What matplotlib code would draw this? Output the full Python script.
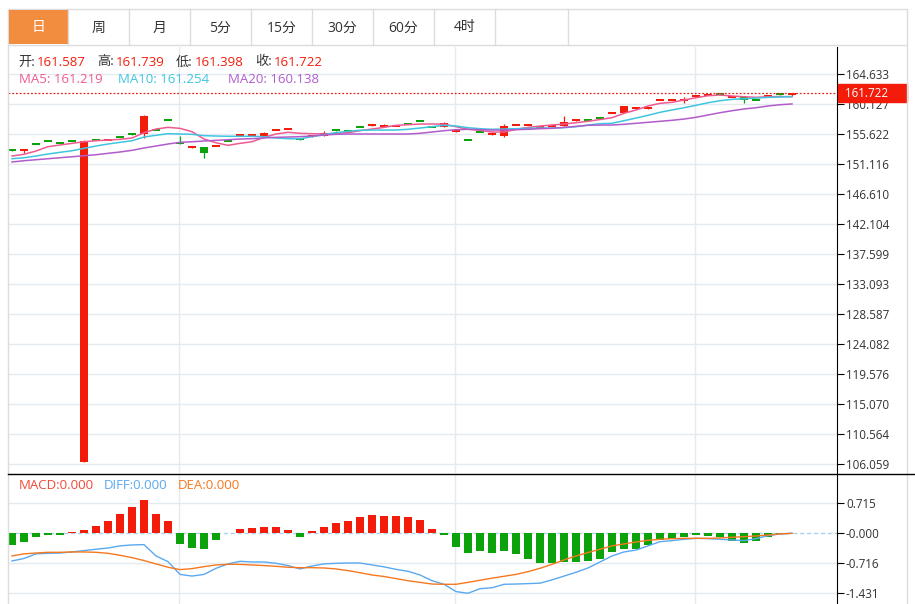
import numpy as np
import matplotlib
matplotlib.use("Agg")
import matplotlib.pyplot as plt
from matplotlib.patches import Rectangle
from matplotlib.lines import Line2D
from matplotlib.transforms import Affine2D

plt.rcParams['font.family'] = ['Open Sans', 'Noto Sans CJK SC', 'DejaVu Sans']

# --- données (66 bougies journalières) ---
opens = [153.25, 153.15, 154.22, 154.63, 154.42, 154.63, 106.36, 154.83, 154.66, 155.28,
         155.64, 155.58, 156.28, 157.78, 154.47, 153.56, 153.62, 153.76, 154.63, 155.41,
         155.41, 155.37, 156.17, 156.31, 154.86, 155.22, 155.28, 156.24, 156.13, 156.78,
         156.87, 156.72, 156.76, 157.18, 157.63, 156.78, 156.67, 155.94, 154.83, 156.03,
         155.52, 155.37, 156.91, 156.99, 156.61, 156.84, 156.87, 157.62, 157.83, 158.04,
         158.79, 158.73, 159.42, 159.42, 160.67, 160.67, 160.67, 161.31, 161.42, 161.64,
         161.16, 161.22, 160.79, 161.27, 161.64, 161.587]
closes = [153.12, 153.28, 154.10, 154.50, 154.22, 154.50, 154.62, 154.70, 154.78, 155.16,
          155.52, 158.33, 156.16, 157.66, 154.07, 153.68, 152.81, 153.88, 154.50, 155.53,
          155.53, 155.73, 156.29, 156.43, 154.74, 155.34, 155.73, 156.12, 156.01, 156.66,
          156.99, 157.02, 156.88, 157.06, 157.51, 156.66, 157.23, 156.06, 154.71, 155.91,
          155.64, 156.82, 157.03, 157.11, 156.73, 156.96, 157.38, 157.74, 157.71, 157.92,
          158.91, 159.83, 159.54, 159.54, 160.79, 160.79, 160.79, 161.43, 161.54, 161.52,
          161.28, 160.73, 160.67, 161.39, 161.52, 161.722]
highs = [153.25, 153.30, 154.22, 154.63, 154.42, 154.63, 154.70, 154.83, 154.78, 155.28,
         155.64, 158.48, 156.28, 157.78, 155.32, 153.68, 153.62, 153.88, 154.63, 155.53,
         155.53, 155.88, 156.29, 156.43, 154.86, 155.34, 156.03, 156.24, 156.13, 156.78,
         156.99, 157.17, 156.88, 157.18, 157.63, 156.78, 157.42, 156.06, 154.83, 156.03,
         155.90, 157.12, 157.03, 157.11, 156.73, 156.96, 158.28, 157.74, 157.83, 158.04,
         158.91, 159.83, 159.54, 159.54, 160.79, 160.79, 161.15, 161.43, 161.54, 161.64,
         161.28, 161.22, 160.79, 161.39, 161.64, 161.739]
lows = [153.12, 152.72, 154.10, 154.50, 154.22, 154.50, 106.30, 154.70, 154.66, 155.16,
        155.52, 154.98, 156.16, 157.66, 154.07, 153.56, 151.97, 153.76, 154.50, 155.41,
        155.41, 155.37, 156.17, 156.31, 154.74, 155.22, 155.28, 156.12, 156.01, 156.66,
        156.87, 156.72, 156.76, 157.06, 157.51, 156.66, 156.67, 155.94, 154.71, 155.91,
        155.52, 155.13, 156.91, 156.99, 156.61, 156.84, 156.87, 157.62, 157.71, 157.92,
        158.79, 158.73, 159.42, 159.42, 160.67, 160.67, 160.30, 161.31, 161.42, 161.52,
        161.16, 160.32, 160.67, 161.27, 161.52, 161.398]

ma5 = [152.32, 152.57, 153.07, 153.72, 153.97, 154.22, 154.46, 154.61, 154.72, 154.82,
       155.02, 155.82, 156.37, 156.62, 156.47, 155.97, 154.87, 154.31, 153.92, 154.22,
       154.46, 155.12, 155.62, 155.88, 155.73, 155.67, 155.62, 155.73, 155.82, 156.12,
       156.37, 156.62, 156.92, 157.02, 157.12, 157.12, 157.12, 156.72, 156.33, 156.18,
       155.92, 155.92, 156.33, 156.62, 156.82, 156.97, 157.12, 157.32, 157.53, 157.80,
       158.07, 158.73, 159.23, 159.83, 160.23, 160.38, 160.73, 161.07, 161.37, 161.48,
       161.33, 161.22, 161.13, 161.22, 161.25, 161.219]
ma10 = [151.91, 152.06, 152.32, 152.62, 152.87, 153.11, 153.47, 153.82, 154.12, 154.37,
        154.61, 155.17, 155.43, 155.67, 155.62, 155.58, 155.37, 155.32, 155.28, 155.28,
        155.28, 155.22, 155.02, 154.92, 154.90, 155.22, 155.52, 155.82, 156.03, 156.18,
        156.22, 156.22, 156.22, 156.33, 156.52, 156.72, 156.93, 156.82, 156.57, 156.42,
        156.33, 156.37, 156.42, 156.48, 156.52, 156.52, 156.57, 156.72, 156.97, 157.17,
        157.23, 157.62, 158.02, 158.43, 158.88, 159.23, 159.57, 159.93, 160.32, 160.62,
        160.83, 160.92, 161.02, 161.13, 161.17, 161.254]
ma20 = [151.42, 151.61, 151.76, 151.91, 152.06, 152.21, 152.36, 152.51, 152.72, 152.92,
        153.17, 153.52, 153.82, 154.12, 154.37, 154.46, 154.57, 154.67, 154.76, 154.87,
        154.92, 155.02, 155.12, 155.17, 155.22, 155.32, 155.47, 155.58, 155.62, 155.62,
        155.62, 155.62, 155.62, 155.62, 155.73, 155.92, 156.12, 156.27, 156.33, 156.27,
        156.22, 156.22, 156.27, 156.33, 156.42, 156.48, 156.62, 156.77, 156.93, 156.97,
        156.97, 157.08, 157.23, 157.38, 157.53, 157.68, 157.87, 158.13, 158.48, 158.82,
        159.12, 159.38, 159.57, 159.83, 160.02, 160.138]

macd_hist = [-0.278, -0.199, -0.08, -0.03, -0.05, 0.024, 0.08, 0.175, 0.286, 0.47,
             0.636, 0.795, 0.46, 0.30, -0.254, -0.358, -0.366, -0.16, 0.01, 0.11,
             0.127, 0.16, 0.16, 0.08, -0.08, 0.056, 0.15, 0.254, 0.294, 0.39,
             0.437, 0.42, 0.413, 0.397, 0.318, 0.11, -0.03, -0.318, -0.477, -0.413,
             -0.461, -0.413, -0.493, -0.604, -0.716, -0.716, -0.69, -0.684, -0.66, -0.604,
             -0.445, -0.366, -0.366, -0.286, -0.16, -0.127, -0.087, -0.03, -0.07, -0.095,
             -0.175, -0.22, -0.175, -0.08, -0.02, 0.0]
diff = [-0.66, -0.60, -0.49, -0.477, -0.47, -0.445, -0.413, -0.38, -0.35, -0.30,
        -0.278, -0.27, -0.54, -0.676, -0.98, -1.02, -0.98, -0.835, -0.73, -0.668,
        -0.684, -0.684, -0.716, -0.77, -0.85, -0.78, -0.73, -0.716, -0.708, -0.708,
        -0.755, -0.80, -0.86, -0.906, -0.994, -1.13, -1.216, -1.39, -1.43, -1.32,
        -1.30, -1.216, -1.21, -1.20, -1.19, -1.11, -1.02, -0.93, -0.827, -0.684,
        -0.54, -0.445, -0.40, -0.30, -0.20, -0.175, -0.143, -0.12, -0.127, -0.143,
        -0.16, -0.175, -0.127, -0.056, -0.016, 0.0]
dea = [-0.54, -0.49, -0.47, -0.453, -0.453, -0.445, -0.445, -0.453, -0.477, -0.525,
       -0.58, -0.65, -0.73, -0.81, -0.866, -0.843, -0.795, -0.755, -0.74, -0.74,
       -0.755, -0.77, -0.787, -0.81, -0.82, -0.82, -0.827, -0.85, -0.89, -0.94,
       -0.994, -1.03, -1.08, -1.13, -1.17, -1.21, -1.216, -1.216, -1.17, -1.12,
       -1.07, -1.025, -0.98, -0.914, -0.835, -0.74, -0.636, -0.54, -0.46, -0.38,
       -0.30, -0.254, -0.207, -0.167, -0.143, -0.127, -0.12, -0.12, -0.12, -0.111,
       -0.095, -0.08, -0.064, -0.04, -0.016, 0.0]

price_ticks = [164.633, 160.127, 155.622, 151.116, 146.610, 142.104, 137.599,
               133.093, 128.587, 124.082, 119.576, 115.070, 110.564, 106.059]
macd_ticks = [0.715, 0.0, -0.716, -1.431]
macd_labels = ["0.715", "-0.000", "-0.716", "-1.431"]
tabs = ["日", "周", "月", "5分", "15分", "30分", "60分", "4时"]

# Couleurs
RED = "#f31c0b"
GREEN = "#0ba20b"
C_MA5 = "#ef5a90"
C_MA10 = "#3ec6e0"
C_MA20 = "#b25ccc"
C_DIFF = "#5aa9ef"
C_DEA = "#f5781f"
GRID = "#e3eaf0"
TXT = "#333333"

W, H = 915, 604
fig = plt.figure(figsize=(W / 100, H / 100), dpi=100)
pix = Affine2D().scale(1 / W, -1 / H).translate(0, 1) + fig.transFigure


def fbox(x0, y0, x1, y1):
    return [x0 / W, 1 - y1 / H, (x1 - x0) / W, (y1 - y0) / H]


ax = fig.add_axes(fbox(8, 47, 837, 473))
axm = fig.add_axes(fbox(8, 474, 837, 604))

x = np.arange(len(closes))
o = np.array(opens)
c = np.array(closes)
up = c >= o
cols = np.where(up, RED, GREEN)

vgrid = [13.92, 36.92, 56.92]

for a in (ax, axm):
    a.set_xlim(-0.333, 68.75)
    for s in ("left", "top", "bottom"):
        a.spines[s].set_visible(False)
    a.spines["right"].set_color("black")
    a.spines["right"].set_linewidth(0.8)
    a.yaxis.tick_right()
    a.tick_params(axis="y", length=5, width=0.8, color="black", labelcolor=TXT,
                  labelsize=8.4, pad=1.5)
    a.tick_params(axis="x", bottom=False, labelbottom=False)
    for v in vgrid:
        a.axvline(v, color=GRID, lw=1, zorder=0)

# --- panneau des prix ---
ax.set_ylim(104.71, 168.69)
ax.set_yticks(price_ticks)
ax.set_yticklabels([f"{t:.3f}" for t in price_ticks])
for t in price_ticks:
    ax.axhline(t, color=GRID, lw=1, zorder=0)

mid = (o + c) / 2
bh = np.maximum(np.abs(c - o), 0.3)
ax.vlines(x, lows, highs, colors=cols, lw=0.9, zorder=2)
ax.bar(x, bh, bottom=mid - bh / 2, width=0.66, color=cols, linewidth=0, zorder=2)

ax.plot(x, ma5, color=C_MA5, lw=1.1, zorder=3)
ax.plot(x, ma10, color=C_MA10, lw=1.1, zorder=3)
ax.plot(x, ma20, color=C_MA20, lw=1.1, zorder=3)

last = closes[-1]
ax.axhline(last, color="#e8201a", ls=(0, (1.5, 1.5)), lw=0.9, zorder=4)
yt = ax.get_yaxis_transform()
ax.add_patch(Rectangle((1.001, last - 1.35), 0.0835, 2.7, transform=yt,
                       color=RED, clip_on=False, zorder=5))
ax.text(1.0095, last, f"{last:.3f}", transform=yt, color="white", fontsize=8.4,
        va="center", ha="left", zorder=6)

# --- panneau MACD ---
axm.set_ylim(-1.686, 1.414)
axm.set_yticks(macd_ticks)
axm.set_yticklabels(macd_labels)
for t in macd_ticks:
    if t == 0:
        axm.axhline(t, color="#a9d3ec", ls=(0, (3, 2)), lw=1, zorder=0)
    else:
        axm.axhline(t, color=GRID, lw=1, zorder=0)
hcols = np.where(np.array(macd_hist) >= 0, RED, GREEN)
axm.bar(x, macd_hist, width=0.62, color=hcols, linewidth=0, zorder=2)
axm.plot(x, diff, color=C_DIFF, lw=1.0, zorder=3)
axm.plot(x, dea, color=C_DEA, lw=1.0, zorder=3)

# --- cadre, onglets et légendes ---
BORDER = "#dcdcdc"
fig.add_artist(Rectangle((8, 9), 899, 36, transform=pix, fill=False, ec=BORDER, lw=1))
fig.add_artist(Rectangle((8.5, 10), 59, 34, transform=pix, color="#f28d3f", lw=0))
edges = [8, 68, 129, 190, 251, 312, 373, 434, 495, 568]
for e in edges[1:]:
    fig.add_artist(Line2D([e, e], [9, 45], transform=pix, color=BORDER, lw=1))
for i, t in enumerate(tabs):
    cx = (edges[i] + edges[i + 1]) / 2
    fig.text(cx, 28, t, transform=pix, ha="center", va="center", fontsize=10,
             color="white" if i == 0 else TXT)
fig.add_artist(Line2D([8, 8], [45, 604], transform=pix, color=BORDER, lw=1))
fig.add_artist(Line2D([907, 907], [45, 604], transform=pix, color=BORDER, lw=1))
fig.add_artist(Line2D([8, 915], [473.5, 473.5], transform=pix, color="black", lw=1))

ohlc = [("开:", 18, f"{opens[-1]:.3f}", 37), ("高:", 97, f"{highs[-1]:.3f}", 116),
        ("低:", 176, f"{lows[-1]:.3f}", 195), ("收:", 255, f"{closes[-1]:.3f}", 274)]
for lab, lx, val, vx in ohlc:
    fig.text(lx, 62, lab, transform=pix, ha="left", va="center", fontsize=9.5, color=TXT)
    fig.text(vx, 62, val, transform=pix, ha="left", va="center", fontsize=9.5, color=RED)

fig.text(19, 79.5, f"MA5: {ma5[-1]:.3f}", transform=pix, ha="left", va="center",
         fontsize=9.5, color=C_MA5)
fig.text(118, 79.5, f"MA10: {ma10[-1]:.3f}", transform=pix, ha="left", va="center",
         fontsize=9.5, color=C_MA10)
fig.text(228, 79.5, f"MA20: {ma20[-1]:.3f}", transform=pix, ha="left", va="center",
         fontsize=9.5, color=C_MA20)

fig.text(19, 485.5, f"MACD:{macd_hist[-1]:.3f}", transform=pix, ha="left", va="center",
         fontsize=9.5, color="#f04a3a")
fig.text(104, 485.5, f"DIFF:{abs(diff[-1]):.3f}", transform=pix, ha="left", va="center",
         fontsize=9.5, color=C_DIFF)
fig.text(178, 485.5, f"DEA:{abs(dea[-1]):.3f}", transform=pix, ha="left", va="center",
         fontsize=9.5, color=C_DEA)

fig.savefig("out.png", dpi=100)
